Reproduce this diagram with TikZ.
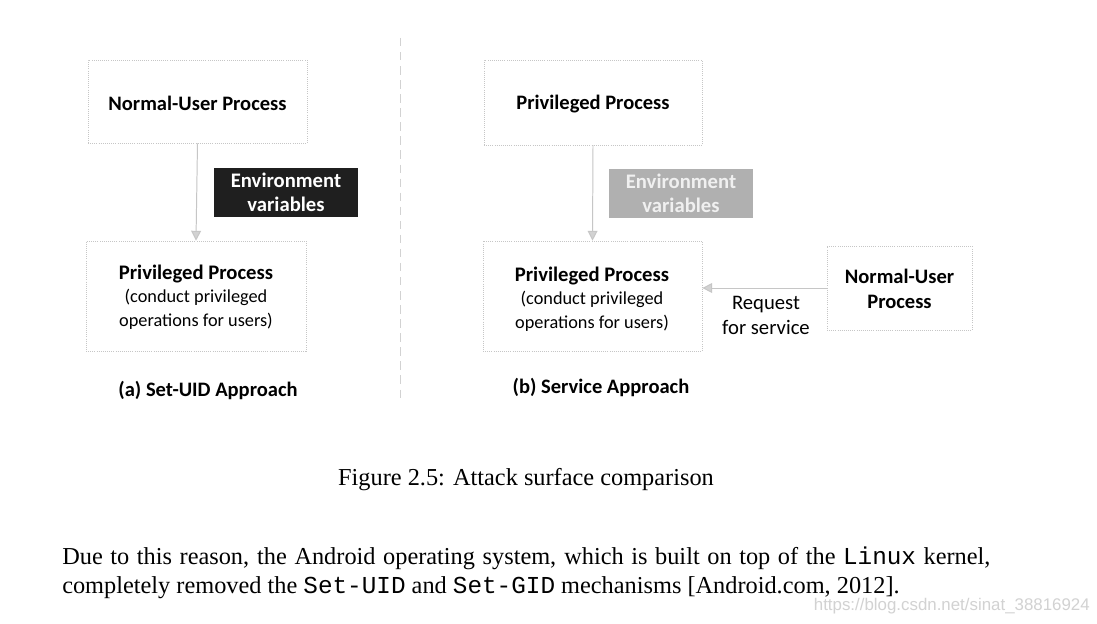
\documentclass[tikz,border=0pt]{standalone}
\usepackage{fontspec}
\setmainfont{Liberation Serif}
\setmonofont{Liberation Mono}
\newfontfamily\calfont{Carlito}
\newfontfamily\wmfont{Liberation Sans}
\usetikzlibrary{arrows.meta}
\begin{document}
\begin{tikzpicture}[x=0.025cm,y=-0.025cm,
  box/.style={draw=gray!45,line width=0.5pt,densely dotted,inner sep=0pt,font=\calfont\fontsize{14.6}{17.8}\selectfont,align=center},
  envbox/.style={inner sep=0pt,font=\calfont\bfseries\fontsize{14.7}{17}\selectfont,align=center},
  conn/.style={draw=gray!45,line width=0.7pt,-{Triangle[width=7pt,length=7pt,fill=gray!35]}},
  lbl/.style={font=\calfont\bfseries\fontsize{14.6}{17}\selectfont},
  plain/.style={font=\calfont\fontsize{14.7}{17.8}\selectfont,align=center},
  boxtext/.style={font=\calfont\bfseries\fontsize{14.6}{17.8}\selectfont,align=center}
]
\useasboundingbox (0,0) rectangle (1097,624);
\fill[white] (0,0) rectangle (1097,624);
% left part
\node[box,minimum width=219*0.025cm,minimum height=83*0.025cm] (aN) at (197.5,101.5) {};
\node[boxtext] (aNt) at (197.5,103) {Normal-User Process};
\node[box,minimum width=220*0.025cm,minimum height=110*0.025cm] (aP) at (196,296) {};
\node[plain] (aPt) at (196,297) {{\bfseries Privileged Process}\\[-1pt]{\fontsize{13}{15}\selectfont (conduct privileged}\\[-1pt]{\fontsize{13}{15}\selectfont operations for users)}};
\draw[conn] (aN.south) -- (aP.north);
\node[envbox,fill=black!88,text=white,minimum width=144*0.025cm,minimum height=49*0.025cm] (aE) at (286,192.5) {Environment\\variables};
\node[lbl] (aL) at (208,390) {(a) Set-UID Approach};
% divider
\coordinate (d1) at (400,38);
\coordinate (d2) at (400,398);
\draw[gray!35,line width=0.6pt,dash pattern=on 6pt off 4pt] (d1) -- (d2);
% right part
\node[box,minimum width=218*0.025cm,minimum height=85*0.025cm] (bT) at (593,102.5) {};
\node[boxtext] (bTt) at (593,104) {Privileged Process};
\node[box,minimum width=219*0.025cm,minimum height=110*0.025cm] (bP) at (592.5,296) {};
\node[plain] (bPt) at (592,299) {{\bfseries Privileged Process}\\[-1pt]{\fontsize{13}{15}\selectfont (conduct privileged}\\[-1pt]{\fontsize{13}{15}\selectfont operations for users)}};
\draw[conn] (bT.south) -- (bP.north);
\node[envbox,fill=gray!62,text=gray!12,minimum width=144*0.025cm,minimum height=49*0.025cm] (bE) at (681,193.5) {Environment\\variables};
\node[box,minimum width=145*0.025cm,minimum height=84*0.025cm] (bN) at (899.5,288) {};
\node[boxtext] (bNt) at (899.5,289) {Normal-User\\Process};
\draw[conn] (bN.west) -- (bP.east |- bN.west);
\node[plain] (bR) at (766,315) {Request\\for service};
\node[lbl] (bL) at (601,387) {(b) Service Approach};
% caption and text
\node[font=\fontsize{17.3}{20}\selectfont] (cap) at (526,480) {Figure 2.5: Attack surface comparison};
\node[anchor=west,inner sep=0pt,font=\fontsize{17.3}{20}\selectfont] (p1) at (62,558) {\makebox[23.2cm][s]{Due to this reason, the Android operating system, which is built on top of the \texttt{Linux} kernel,}};
\node[anchor=west,inner sep=0pt,font=\fontsize{17.3}{20}\selectfont] (p2) at (62,588) {completely removed the \texttt{Set-UID} and \texttt{Set-GID} mechanisms [Android.com, 2012].};
\node[anchor=east,inner sep=0pt,text=gray!35,font=\wmfont\fontsize{12}{14}\selectfont] (wm) at (1090,606) {https://blog.csdn.net/sinat\_38816924};
\end{tikzpicture}
\end{document}
